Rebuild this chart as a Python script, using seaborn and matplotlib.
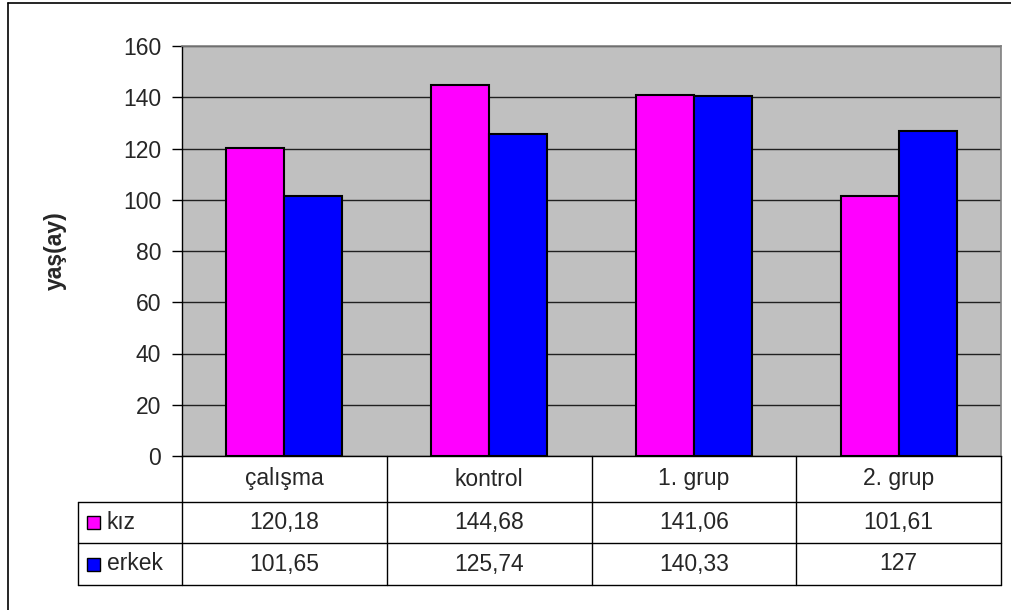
import matplotlib
matplotlib.use("Agg")
import matplotlib.pyplot as plt
from matplotlib.lines import Line2D
from matplotlib.patches import Rectangle
import seaborn as sns
import pandas as pd

# Mean age (months) per group, by sex
groups = ["çalışma", "kontrol", "1. grup", "2. grup"]
series_names = ["kız", "erkek"]
kiz = [120.18, 144.68, 141.06, 101.61]
erkek = [101.65, 125.74, 140.33, 127]
colors = ["#FF00FF", "#0000FF"]
yticks = [0, 20, 40, 60, 80, 100, 120, 140, 160]

df = pd.DataFrame({
    "grup": groups * 2,
    "cins": [series_names[0]] * 4 + [series_names[1]] * 4,
    "yas": kiz + erkek,
})

sns.set_style("white")
plt.rcParams["font.family"] = ["Liberation Sans", "DejaVu Sans"]
FS = 16.5

W, H = 1011, 610
fig = plt.figure(figsize=(W / 100, H / 100), dpi=100)
fig.patch.set_facecolor("white")

# plot area in pixel terms
left, right, top, bottom = 182, 1001, 46, 456
ax = fig.add_axes([left / W, 1 - bottom / H, (right - left) / W, (bottom - top) / H])
ax.set_facecolor("#C0C0C0")

sns.barplot(data=df, x="grup", y="yas", hue="cins", palette=colors,
            saturation=1, edgecolor="black", linewidth=1.5, width=0.566,
            ax=ax, legend=False, zorder=3)

ax.set_ylim(0, 160)
ax.set_xlim(-0.5, 3.5)
ax.set_yticks(yticks)
ax.set_yticklabels([str(t) for t in yticks], fontsize=FS)
ax.yaxis.grid(True, color="#202020", linewidth=1)
ax.set_axisbelow(True)
ax.set_xticks([])
ax.set_xlabel("")
ax.tick_params(axis="y", which="both", left=True, length=7, width=1,
               color="black", pad=8)
ax.set_ylabel("yaş(ay)", fontsize=FS, fontweight="bold")
ax.yaxis.set_label_coords(-0.140, 0.5)

for side in ["top", "right"]:
    ax.spines[side].set_color("#808080")
    ax.spines[side].set_linewidth(1.2)
ax.spines["left"].set_color("black")
ax.spines["bottom"].set_color("black")
ax.spines["left"].set_linewidth(1)
ax.spines["bottom"].set_linewidth(1)

# data table below the plot
ph = bottom - top
pw = right - left
def ay(px):
    return (bottom - px) / ph

def axx(px):
    return (px - left) / pw

row1, row2, row3 = ay(502), ay(543), ay(585)
tleft = axx(78)
xt = ax.get_xaxis_transform()
kw = dict(color="black", linewidth=1, clip_on=False)

for xb in [-0.5, 0.5, 1.5, 2.5, 3.5]:
    ax.add_line(Line2D([xb, xb], [0, row3], transform=xt, **kw))
for yy in [row1, row2, row3]:
    ax.add_line(Line2D([tleft, 1], [yy, yy], transform=ax.transAxes, **kw))
ax.add_line(Line2D([tleft, tleft], [row1, row3], transform=ax.transAxes, **kw))

def fmt(v):
    return f"{v:g}".replace(".", ",")

for i, g in enumerate(groups):
    ax.text(i, (0 + row1) / 2, g, transform=xt, ha="center", va="center",
            fontsize=FS, clip_on=False)
    ax.text(i, (row1 + row2) / 2, fmt(kiz[i]), transform=xt, ha="center",
            va="center", fontsize=FS, clip_on=False)
    ax.text(i, (row2 + row3) / 2, fmt(erkek[i]), transform=xt, ha="center",
            va="center", fontsize=FS, clip_on=False)

sq_w, sq_h = 13 / pw, 13 / ph
for name, c, (ya, yb) in zip(series_names, colors, [(row1, row2), (row2, row3)]):
    yc = (ya + yb) / 2
    ax.add_patch(Rectangle((axx(87), yc - sq_h / 2), sq_w, sq_h,
                           transform=ax.transAxes, facecolor=c,
                           edgecolor="black", linewidth=1, clip_on=False))
    ax.text(axx(107), yc, name, transform=ax.transAxes, ha="left",
            va="center", fontsize=FS, clip_on=False)

# chart frame (top and left edges)
fig.add_artist(Line2D([8 / W, 8 / W], [0, 1 - 3 / H], color="black",
                      linewidth=1.2, transform=fig.transFigure))
fig.add_artist(Line2D([8 / W, 1], [1 - 3 / H, 1 - 3 / H], color="black",
                      linewidth=1.2, transform=fig.transFigure))

fig.savefig("out.png", dpi=100, facecolor="white")
